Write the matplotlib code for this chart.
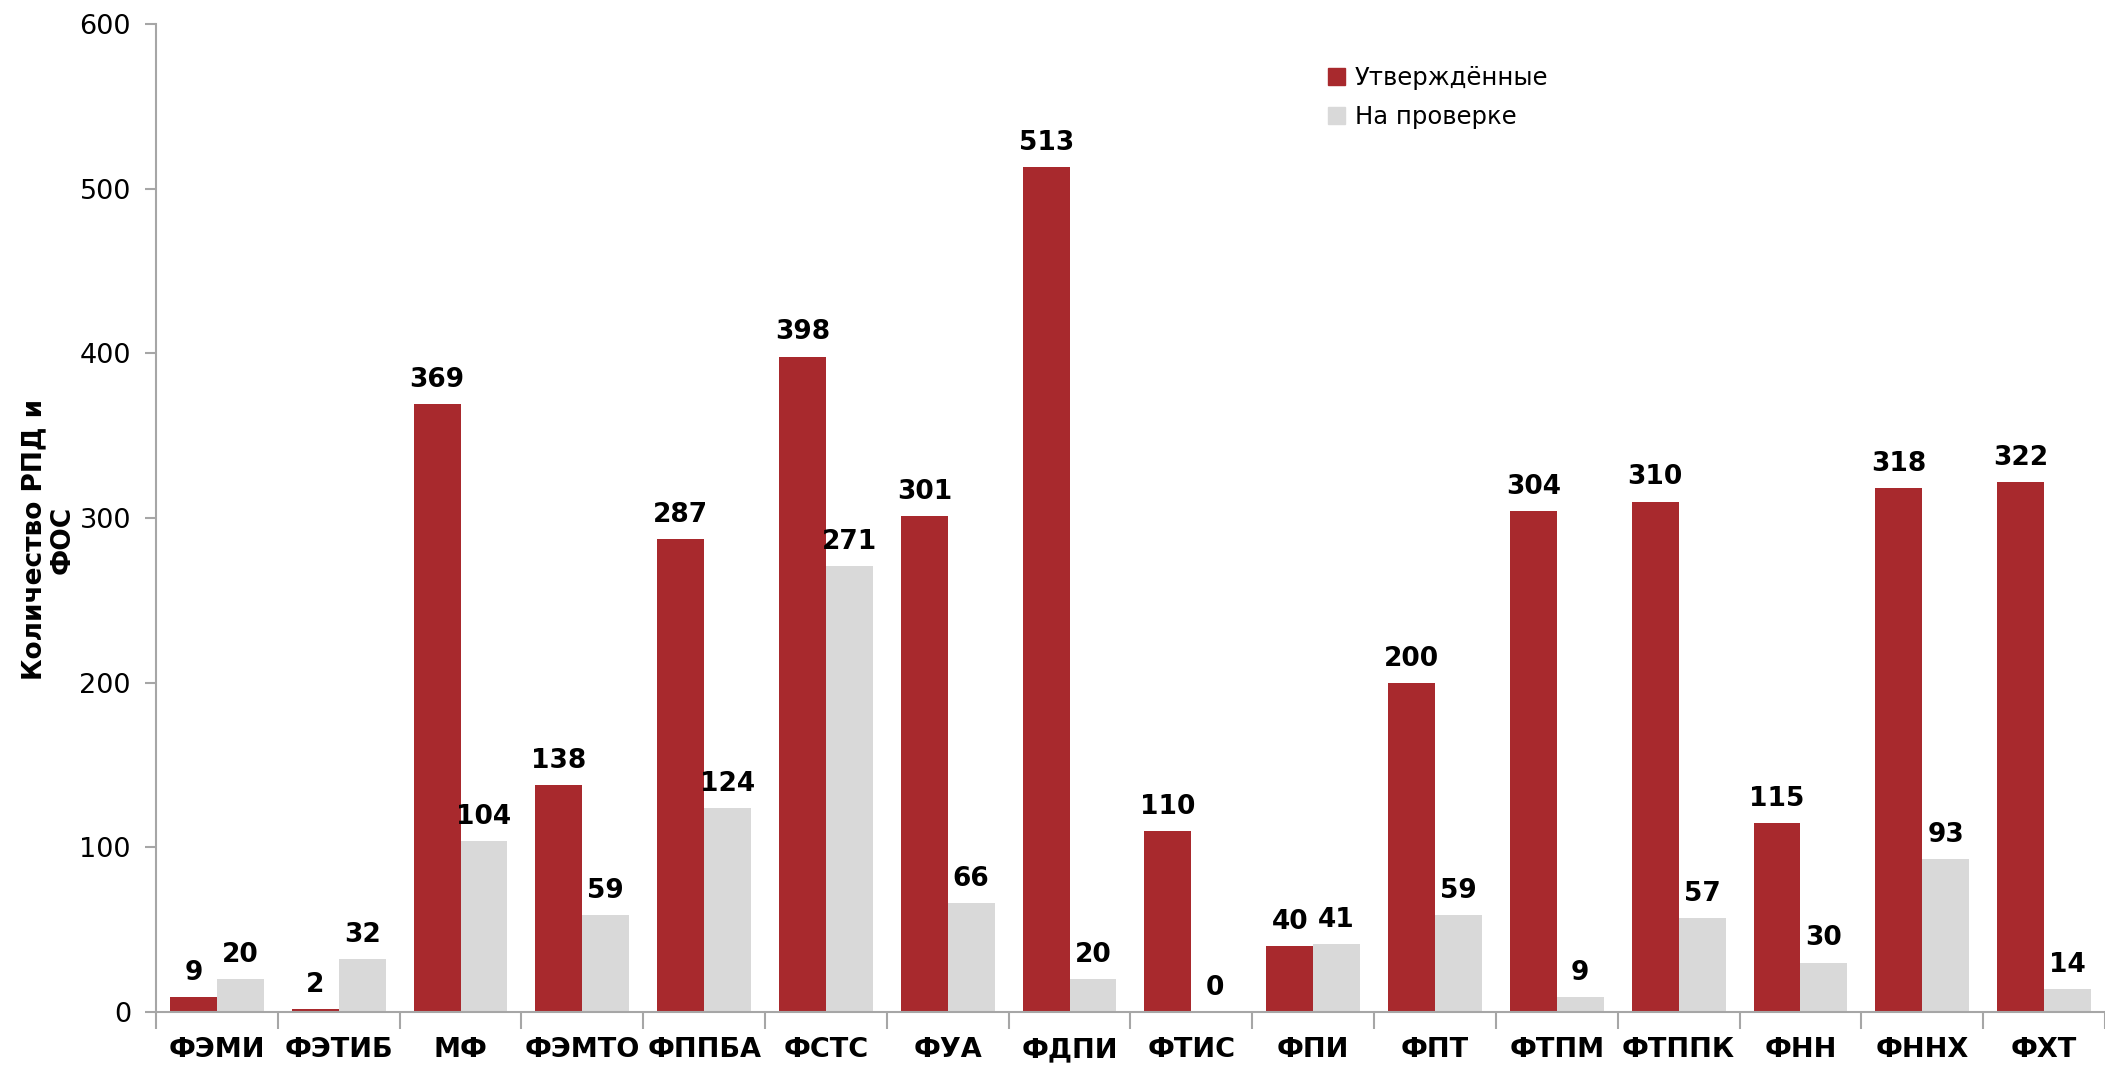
import numpy as np
import matplotlib.pyplot as plt
from matplotlib.patches import Patch

# Data
faculties = ["ФЭМИ", "ФЭТИБ", "МФ", "ФЭМТО", "ФППБА", "ФСТС", "ФУА", "ФДПИ",
             "ФТИС", "ФПИ", "ФПТ", "ФТПМ", "ФТППК", "ФНН", "ФННХ", "ФХТ"]
approved = [9, 2, 369, 138, 287, 398, 301, 513, 110, 40, 200, 304, 310, 115, 318, 322]
on_review = [20, 32, 104, 59, 124, 271, 66, 20, 0, 41, 59, 9, 57, 30, 93, 14]

red = "#A8292D"
grey = "#D9D9D9"

fig = plt.figure(figsize=(21.05, 10.70), dpi=100)
ax = fig.add_axes([0.0741, 0.0542, 0.9259, 0.9234])

x = np.arange(len(faculties))
w = 0.385
b1 = ax.bar(x - w / 2, approved, w, color=red, label="Утверждённые")
b2 = ax.bar(x + w / 2, on_review, w, color=grey, label="На проверке")

for bars in (b1, b2):
    for rect in bars:
        h = rect.get_height()
        ax.annotate("%d" % h, (rect.get_x() + rect.get_width() / 2, h),
                    xytext=(0, 8), textcoords="offset points",
                    ha="center", va="bottom", fontsize=19, fontweight="bold",
                    family="DejaVu Sans")

ax.set_xlim(-0.5, len(faculties) - 0.5)
ax.set_ylim(0, 600)
ax.set_yticks(np.arange(0, 601, 100))
ax.tick_params(axis="y", labelsize=19.5, length=8, color="#A6A6A6", width=1.5, pad=10)

ax.set_xticks(x)
ax.set_xticklabels(faculties, fontsize=19.5, fontweight="bold", family="DejaVu Sans")
ax.set_xticks(np.arange(-0.5, len(faculties) + 0.5, 1), minor=True)
ax.tick_params(axis="x", which="major", length=0, pad=18)
ax.tick_params(axis="x", which="minor", length=12, color="#A6A6A6", width=1.5)

for s in ("top", "right"):
    ax.spines[s].set_visible(False)
for s in ("left", "bottom"):
    ax.spines[s].set_color("#A6A6A6")
    ax.spines[s].set_linewidth(1.5)

ax.set_ylabel("Количество РПД и\nФОС", fontsize=19, fontweight="bold",
              family="DejaVu Sans", linespacing=1.15)
ax.yaxis.set_label_coords(-0.041, 0.478)

handles = [Patch(color=red), Patch(color=grey)]
ax.legend(handles, ["Утверждённые", "На проверке"], loc="upper left",
          bbox_to_anchor=(0.59, 0.98), frameon=False, fontsize=17.5,
          handlelength=0.7, handleheight=0.7, handletextpad=0.4,
          labelspacing=0.65)

fig.savefig("out.png", dpi=100)
